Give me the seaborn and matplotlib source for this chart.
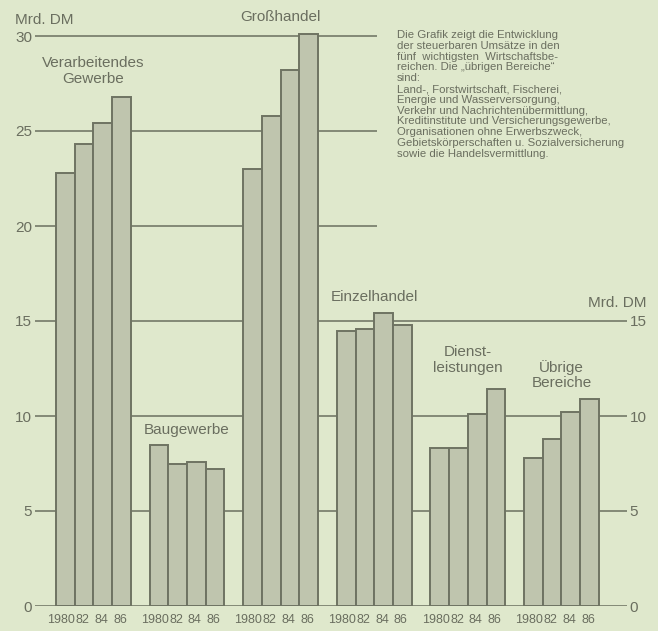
import matplotlib
matplotlib.use("Agg")
import matplotlib.pyplot as plt
import seaborn as sns
import pandas as pd

# Steuerbare Umsätze in Mrd. DM, nach Wirtschaftsbereichen
sectors = ["Verarbeitendes\nGewerbe", "Baugewerbe", "Großhandel",
           "Einzelhandel", "Dienst-\nleistungen", "Übrige\nBereiche"]
years = ["1980", "82", "84", "86"]
verarbeitendes = [22.8, 24.3, 25.4, 26.8]
baugewerbe = [8.5, 7.5, 7.6, 7.2]
grosshandel = [23.0, 25.8, 28.2, 30.1]
einzelhandel = [14.5, 14.6, 15.4, 14.8]
dienstleistungen = [8.3, 8.3, 10.1, 11.4]
uebrige = [7.8, 8.8, 10.2, 10.9]
left_ticks = [0, 5, 10, 15, 20, 25, 30]
right_ticks = [0, 5, 10, 15]

note = ("Die Grafik zeigt die Entwicklung\n"
        "der steuerbaren Umsätze in den\n"
        "fünf  wichtigsten  Wirtschaftsbe-\n"
        "reichen. Die „übrigen Bereiche“\n"
        "sind:\n"
        "Land-, Forstwirtschaft, Fischerei,\n"
        "Energie und Wasserversorgung,\n"
        "Verkehr und Nachrichtenübermittlung,\n"
        "Kreditinstitute und Versicherungsgewerbe,\n"
        "Organisationen ohne Erwerbszweck,\n"
        "Gebietskörperschaften u. Sozialversicherung\n"
        "sowie die Handelsvermittlung.")

series = [verarbeitendes, baugewerbe, grosshandel,
          einzelhandel, dienstleistungen, uebrige]
rows = []
for si, (name, vals) in enumerate(zip(sectors, series)):
    for yi, (yr, v) in enumerate(zip(years, vals)):
        rows.append({"sector": name, "year": yr, "value": v,
                     "pos": si * (len(years) + 1) + yi})
df = pd.DataFrame(rows)

sns.set_style("white")
bg = "#dfe8cc"
ink = "#6a6e5f"
line_c = "#7c8170"
plt.rcParams["font.family"] = ["Liberation Sans", "DejaVu Sans"]

W, H = 658, 631
fig = plt.figure(figsize=(W / 100, H / 100), dpi=100, facecolor=bg)

# pixel geometry of the plotting area
px_left, px_right, px_bottom, px_top = 35, 627, 606, 6
px_first_bar, px_unit, px_per_val = 56, 18.72, 19.0
ax = fig.add_axes([px_left / W, (H - px_bottom) / H,
                   (px_right - px_left) / W, (px_bottom - px_top) / H])
ax.set_facecolor(bg)
x0 = (px_left - px_first_bar) / px_unit - 0.5
x1 = (px_right - px_first_bar) / px_unit - 0.5
ax.set_xlim(x0, x1)
ax.set_ylim(0, (px_bottom - px_top) / px_per_val)

# horizontal rules: lower ones span everything, upper ones stop at the note
x_note = (377 - px_first_bar) / px_unit - 0.5
for t in left_ticks:
    xe = x1 if t <= 15 else x_note
    ax.hlines(t, x0, xe, color=line_c, lw=1.3, zorder=1)

sns.barplot(data=df, x="pos", y="value", native_scale=True, width=1.0,
            color="#bfc5ae", saturation=1, edgecolor="#6e7362",
            linewidth=1.4, ax=ax, zorder=2, errorbar=None)

# year labels under each bar; the four-digit year leans slightly left
ax.set_xticks([])
xtrans = ax.get_xaxis_transform()
for pos, yr in zip(df["pos"], df["year"]):
    shift = -0.22 if yr == years[0] else -0.08
    ax.text(pos + shift, -0.014, yr, transform=xtrans, ha="center",
            va="top", fontsize=9, color=ink)

ax.set_yticks(left_ticks)
ax.set_yticklabels([str(t) for t in left_ticks], fontsize=11, color=ink)
ax.tick_params(axis="y", length=0, pad=2)
ax.set_xlabel("")
ax.set_ylabel("")
for s in ax.spines.values():
    s.set_visible(False)

ax2 = ax.twinx()
ax2.set_ylim(ax.get_ylim())
ax2.set_yticks(right_ticks)
ax2.set_yticklabels([str(t) for t in right_ticks], fontsize=11, color=ink)
ax2.tick_params(axis="y", length=0, pad=2)
for s in ax2.spines.values():
    s.set_visible(False)

# sector titles above each group
title_y = [28.15, 9.26, 31.0, 16.26, 12.95, 12.16]
for si, (name, ty) in enumerate(zip(sectors, title_y)):
    cx = si * (len(years) + 1) + (len(years) - 1) / 2
    ax.text(cx, ty, name, ha="center", va="center", fontsize=11,
            color=ink, linespacing=1.15, zorder=3)

fig.text(15 / W, 1 - 20 / H, "Mrd. DM", ha="left", va="center",
         fontsize=11, color=ink)
fig.text(647 / W, 1 - 303 / H, "Mrd. DM", ha="right", va="center",
         fontsize=11, color=ink)
fig.text(397 / W, 1 - 30 / H, note, ha="left", va="top", fontsize=8.2,
         color=ink, linespacing=1.1)

fig.savefig("out.png", dpi=100, facecolor=bg)
